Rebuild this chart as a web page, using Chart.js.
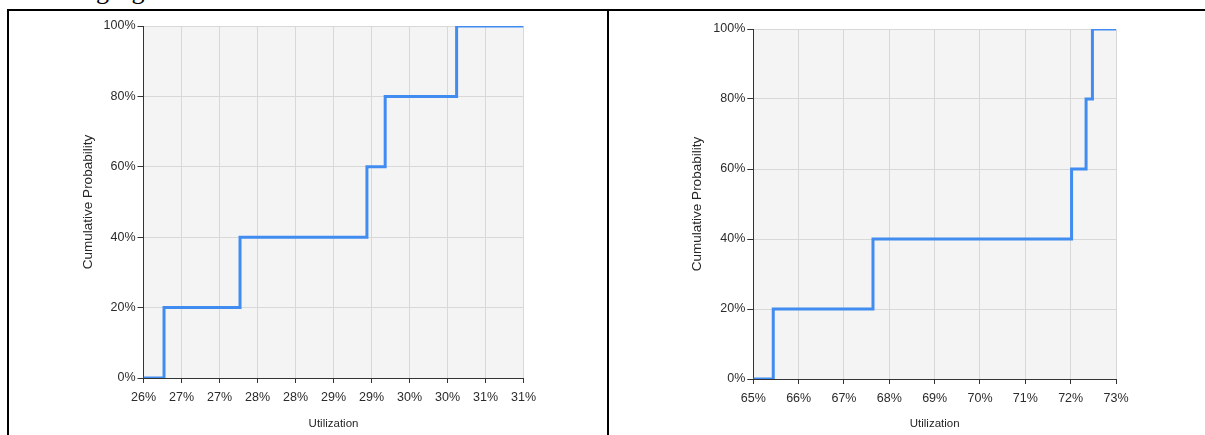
<!DOCTYPE html>
<html>
<head>
<meta charset="utf-8">
<script src="https://cdn.jsdelivr.net/npm/chart.js@4.4.1/dist/chart.umd.min.js"></script>
<style>
  html, body { margin: 0; padding: 0; background: #ffffff; }
  body { width: 1205px; height: 435px; position: relative; overflow: hidden; }
  .lead { position: absolute; left: 8px; top: -23px; font: 26px 'Liberation Serif', 'Times New Roman', serif; line-height: 28px; color: #000; white-space: nowrap; }
  .rule { position: absolute; background: #000; }
  .cell { position: absolute; top: 11px; height: 424px; background: #fff; }
  .cell canvas { display: block; }
</style>
</head>
<body>
<div class="lead">following figure.</div>
<div class="rule" style="left:7px; top:9px; width:1198px; height:2px;"></div>
<div class="rule" style="left:7px; top:9px; width:2px; height:426px;"></div>
<div class="rule" style="left:607px; top:9px; width:2px; height:426px;"></div>
<div class="cell" style="left:73px; width:470px;"><canvas id="cdfLeft" width="470" height="424"></canvas></div>
<div class="cell" style="left:684px; width:446px;"><canvas id="cdfRight" width="446" height="424"></canvas></div>
<script>
// Empirical CDF of utilization, first scenario
const leftUtil = [26.0, 26.27, 27.27, 28.94, 29.18, 30.12, 31.0];
const leftProb = [0, 20, 40, 60, 80, 100, 100];
const leftXTicks = ['26%', '27%', '27%', '28%', '28%', '29%', '29%', '30%', '30%', '31%', '31%'];

// Empirical CDF of utilization, second scenario
const rightUtil = [65.0, 65.44, 67.64, 72.02, 72.34, 72.48, 73.0];
const rightProb = [0, 20, 40, 60, 80, 100, 100];
const rightXTicks = ['65%', '66%', '67%', '68%', '69%', '70%', '71%', '72%', '73%'];

const yTicks = ['0%', '20%', '40%', '60%', '80%', '100%'];

Chart.defaults.font.family = "'Liberation Sans', Arial, sans-serif";
Chart.defaults.color = '#2b2b2b';

const plotBackground = {
  id: 'plotBackground',
  beforeDraw(chart) {
    const { ctx, chartArea: a } = chart;
    ctx.save();
    ctx.fillStyle = '#f4f4f4';
    ctx.fillRect(a.left, a.top, a.right - a.left, a.bottom - a.top);
    ctx.restore();
  }
};

function cdfChart(id, util, prob, xMin, xMax, xStep, xLabels, g) {
  const points = util.map((u, i) => ({ x: u, y: prob[i] }));
  return new Chart(document.getElementById(id), {
    type: 'line',
    data: {
      datasets: [{
        data: points,
        stepped: 'before',
        borderColor: '#418cf0',
        borderWidth: 3,
        pointRadius: 0,
        fill: false,
        borderJoinStyle: 'miter',
        borderCapStyle: 'butt'
      }]
    },
    options: {
      responsive: false,
      animation: false,
      events: [],
      layout: { padding: { left: 0, top: g.top, right: g.right, bottom: 0 } },
      plugins: { legend: { display: false }, tooltip: { enabled: false } },
      scales: {
        x: {
          type: 'linear',
          min: xMin, max: xMax,
          afterFit(s) { s.height = g.xAxisH; s.paddingLeft = 0; s.paddingRight = 0; },
          ticks: {
            stepSize: xStep,
            autoSkip: false,
            maxRotation: 0,
            padding: 7,
            font: { size: 12.5 },
            callback: (v, i) => xLabels[i]
          },
          grid: { color: '#d8d8d8', lineWidth: 1, tickLength: 5, tickColor: '#333333' },
          border: { color: '#333333', width: 1 },
          title: {
            display: true, text: 'Utilization',
            font: { size: 11.5 }, color: '#262626',
            padding: { top: 0, bottom: 4.4 }
          }
        },
        y: {
          min: 0, max: 100,
          afterFit(s) { s.width = g.yAxisW; s.paddingTop = 0; s.paddingBottom = 0; },
          ticks: {
            stepSize: 20,
            padding: 2,
            font: { size: 12.5 },
            callback: (v, i) => yTicks[i]
          },
          grid: { color: '#d8d8d8', lineWidth: 1, tickLength: 6, tickColor: '#333333' },
          border: { color: '#333333', width: 1 },
          title: {
            display: true, text: 'Cumulative Probability',
            font: { size: 13.5 }, color: '#262626',
            padding: { top: g.yTitlePad, bottom: 0 }
          }
        }
      }
    },
    plugins: [plotBackground]
  });
}

cdfChart('cdfLeft', leftUtil, leftProb, 26, 31, 0.5, leftXTicks,
  { top: 15, right: 19.5, xAxisH: 57, yAxisW: 70.5, yTitlePad: 7 });
cdfChart('cdfRight', rightUtil, rightProb, 65, 73, 1, rightXTicks,
  { top: 18, right: 14, xAxisH: 56, yAxisW: 69.3, yTitlePad: 5 });
</script>
</body>
</html>
